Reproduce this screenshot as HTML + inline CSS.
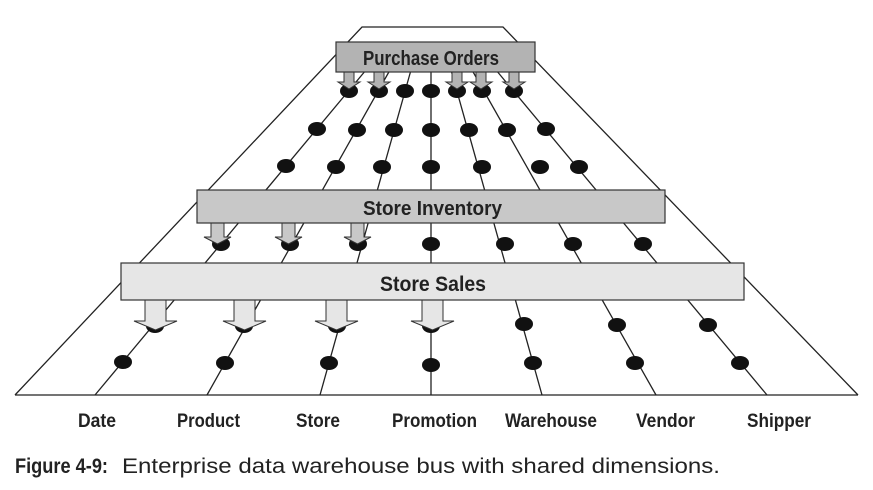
<!DOCTYPE html>
<html><head><style>
body{margin:0;background:#fff;width:873px;height:490px;overflow:hidden}
svg{display:block}
.t{font-family:"Liberation Sans",sans-serif;font-weight:bold;fill:#222}
</style></head><body>
<svg width="873" height="490" viewBox="0 0 873 490">
<g stroke="#222" stroke-width="1.3" fill="none">
<polyline points="15,395 362,27 503,27 858,395"/>
<line x1="15" y1="395" x2="858" y2="395"/>
<line x1="95" y1="395" x2="366" y2="70"/>
<line x1="207" y1="395" x2="390" y2="70"/>
<line x1="320" y1="395" x2="411" y2="70"/>
<line x1="431" y1="395" x2="431" y2="70"/>
<line x1="542" y1="395" x2="451" y2="70"/>
<line x1="656" y1="395" x2="472" y2="70"/>
<line x1="767" y1="395" x2="496" y2="70"/>
</g>
<g fill="#111">
<ellipse cx="349" cy="91" rx="9" ry="7"/><ellipse cx="379" cy="91" rx="9" ry="7"/><ellipse cx="405" cy="91" rx="9" ry="7"/><ellipse cx="431" cy="91" rx="9" ry="7"/><ellipse cx="457" cy="91" rx="9" ry="7"/><ellipse cx="482" cy="91" rx="9" ry="7"/><ellipse cx="514" cy="91" rx="9" ry="7"/>
<ellipse cx="317" cy="129" rx="9" ry="7"/><ellipse cx="357" cy="130" rx="9" ry="7"/><ellipse cx="394" cy="130" rx="9" ry="7"/><ellipse cx="431" cy="130" rx="9" ry="7"/><ellipse cx="469" cy="130" rx="9" ry="7"/><ellipse cx="507" cy="130" rx="9" ry="7"/><ellipse cx="546" cy="129" rx="9" ry="7"/>
<ellipse cx="286" cy="166" rx="9" ry="7"/><ellipse cx="336" cy="167" rx="9" ry="7"/><ellipse cx="382" cy="167" rx="9" ry="7"/><ellipse cx="431" cy="167" rx="9" ry="7"/><ellipse cx="482" cy="167" rx="9" ry="7"/><ellipse cx="540" cy="167" rx="9" ry="7"/><ellipse cx="579" cy="167" rx="9" ry="7"/>
<ellipse cx="221" cy="244" rx="9" ry="7"/><ellipse cx="290" cy="244" rx="9" ry="7"/><ellipse cx="358" cy="244" rx="9" ry="7"/><ellipse cx="431" cy="244" rx="9" ry="7"/><ellipse cx="505" cy="244" rx="9" ry="7"/><ellipse cx="573" cy="244" rx="9" ry="7"/><ellipse cx="643" cy="244" rx="9" ry="7"/>
<ellipse cx="155" cy="326" rx="9" ry="7"/><ellipse cx="244" cy="326" rx="9" ry="7"/><ellipse cx="337" cy="326" rx="9" ry="7"/><ellipse cx="431" cy="326" rx="9" ry="7"/><ellipse cx="524" cy="324" rx="9" ry="7"/><ellipse cx="617" cy="325" rx="9" ry="7"/><ellipse cx="708" cy="325" rx="9" ry="7"/>
<ellipse cx="123" cy="362" rx="9" ry="7"/><ellipse cx="225" cy="363" rx="9" ry="7"/><ellipse cx="329" cy="363" rx="9" ry="7"/><ellipse cx="431" cy="365" rx="9" ry="7"/><ellipse cx="533" cy="363" rx="9" ry="7"/><ellipse cx="635" cy="363" rx="9" ry="7"/><ellipse cx="740" cy="363" rx="9" ry="7"/>
</g>
<g fill="#b3b3b3" stroke="#333" stroke-width="1">
<path d="M344 72h10v10h6l-11 7l-11-7h6z"/>
<path d="M374 72h10v10h6l-11 7l-11-7h6z"/>
<path d="M452 72h10v10h6l-11 7l-11-7h6z"/>
<path d="M476 72h10v10h6l-11 7l-11-7h6z"/>
<path d="M509 72h10v10h6l-11 7l-11-7h6z"/>
</g>
<rect x="336" y="42" width="199" height="30" fill="#b3b3b3" stroke="#333" stroke-width="1.2"/>
<text class="t" x="363" y="65" font-size="20" textLength="136" lengthAdjust="spacingAndGlyphs">Purchase Orders</text>
<g fill="#c8c8c8" stroke="#333" stroke-width="1">
<path d="M211 223h13v14h7l-13.5 7l-13.5-7h7z"/>
<path d="M282 223h13v14h7l-13.5 7l-13.5-7h7z"/>
<path d="M351 223h13v14h7l-13.5 7l-13.5-7h7z"/>
</g>
<rect x="197" y="190" width="468" height="33" fill="#c8c8c8" stroke="#333" stroke-width="1.2"/>
<text class="t" x="363" y="215" font-size="20" textLength="139" lengthAdjust="spacingAndGlyphs">Store Inventory</text>
<g fill="#e6e6e6" stroke="#333" stroke-width="1">
<path d="M145 300h21v21h11l-21.5 9l-21.5-9h11z"/>
<path d="M234 300h21v21h11l-21.5 9l-21.5-9h11z"/>
<path d="M326 300h21v21h11l-21.5 9l-21.5-9h11z"/>
<path d="M422 300h21v21h11l-21.5 9l-21.5-9h11z"/>
</g>
<rect x="121" y="263" width="623" height="37" fill="#e6e6e6" stroke="#333" stroke-width="1.2"/>
<text class="t" x="380" y="291" font-size="21" textLength="106" lengthAdjust="spacingAndGlyphs">Store Sales</text>
<g class="t" font-size="19">
<text x="78" y="427" textLength="38" lengthAdjust="spacingAndGlyphs">Date</text>
<text x="177" y="427" textLength="63" lengthAdjust="spacingAndGlyphs">Product</text>
<text x="296" y="427" textLength="44" lengthAdjust="spacingAndGlyphs">Store</text>
<text x="392" y="427" textLength="85" lengthAdjust="spacingAndGlyphs">Promotion</text>
<text x="505" y="427" textLength="92" lengthAdjust="spacingAndGlyphs">Warehouse</text>
<text x="636" y="427" textLength="59" lengthAdjust="spacingAndGlyphs">Vendor</text>
<text x="747" y="427" textLength="64" lengthAdjust="spacingAndGlyphs">Shipper</text>
</g>
<text x="15" y="473" font-family="Liberation Sans,sans-serif" font-size="21" font-weight="bold" fill="#222" textLength="93" lengthAdjust="spacingAndGlyphs">Figure 4-9:</text>
<text x="122" y="473" font-family="Liberation Sans,sans-serif" font-size="21" fill="#222" textLength="598" lengthAdjust="spacingAndGlyphs">Enterprise data warehouse bus with shared dimensions.</text>
</svg>
</body></html>
